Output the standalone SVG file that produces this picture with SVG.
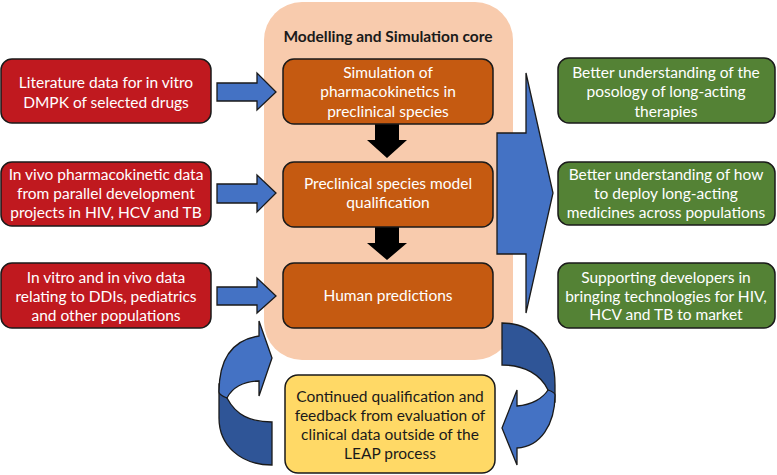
<svg xmlns="http://www.w3.org/2000/svg" width="777" height="475" viewBox="0 0 777 475">
<style>
.box{stroke:#1a1a1a;stroke-width:1.5}
.red{fill:#C0191F}
.org{fill:#C55A11}
.grn{fill:#548235}
.yel{fill:#FFD966}
.t{font-family:Lato,"Open Sans","Liberation Sans",sans-serif;font-size:15.5px;text-anchor:middle;fill:#fff}
.td{fill:#1a1a1a}
.bl{fill:#4472C4;stroke:#1a1a1a;stroke-width:1.3;stroke-linejoin:miter}
.bd{fill:#2F5597;stroke:#1a1a1a;stroke-width:1.3}
.blk{fill:#000}
</style>
<rect width="777" height="475" fill="#fff"/>
<g id="core">
<rect x="264" y="2" width="249" height="358" rx="38" fill="#F8CBAD"/>
<text x="388" y="42" class="t td" style="font-weight:bold">Modelling and Simulation core</text>
</g>
<g id="connectors">
<path class="bl" d="M217,83 H257 V73 L276,92 L257,110 V101 H217 Z"/>
<path class="bl" d="M217,184 H257 V175 L276,193 L257,212 V203 H217 Z"/>
<path class="bl" d="M217,287 H257 V278 L276,296 L257,313 V305 H217 Z"/>
<path class="blk" d="M375,124 H399 V140 H407 L387,158 L367,140 H375 Z"/>
<path class="blk" d="M375,227 H399 V243 H407 L387,260 L367,243 H375 Z"/>
<path class="bl" d="M497,133 H526 V73 L553,193 L526,313 V254 H497 Z"/>
<path class="bd" d="M219,385 V418 C219,445 240,465 272,465 V422 C250,422 236,415 227,398 Z"/>
<path class="bl" d="M219,392 C219,360 232,340 259,336 V321 L272,358 L259,396 V381 C243,381 232,388 227,398 C222,396 219,394 219,392 Z"/>
<path class="bd" d="M502,323 C535,323 555,348 555,385 V401 L548,390 C541,375 525,365 502,365 Z"/>
<path class="bl" d="M555,395 C555,425 540,447 517,448 V465 L502,428 L517,390 V406 C532,405 543,398 548,390 C551,391 555,393 555,395 Z"/>
</g>
<g id="lit">
<rect class="box red" x="1" y="59" width="210" height="64" rx="11"/>
<text class="t" x="106" y="88">Literature data for in vitro</text>
<text class="t" x="106" y="108">DMPK of selected drugs</text>
</g>
<g id="invivo">
<rect class="box red" x="1" y="162" width="210" height="64" rx="11"/>
<text class="t" x="106" y="180">In vivo pharmacokinetic data</text>
<text class="t" x="106" y="199">from parallel development</text>
<text class="t" x="106" y="218">projects in HIV, HCV and TB</text>
</g>
<g id="ddi">
<rect class="box red" x="1" y="263" width="210" height="65" rx="11"/>
<text class="t" x="106" y="283">In vitro and in vivo data</text>
<text class="t" x="106" y="302">relating to DDIs, pediatrics</text>
<text class="t" x="106" y="321">and other populations</text>
</g>
<g id="sim">
<rect class="box org" x="283" y="59" width="210" height="65" rx="11"/>
<text class="t" x="388" y="78">Simulation of</text>
<text class="t" x="388" y="97">pharmacokinetics in</text>
<text class="t" x="388" y="117">preclinical species</text>
</g>
<g id="qual">
<rect class="box org" x="283" y="162" width="210" height="65" rx="11"/>
<text class="t" x="388" y="189">Preclinical species model</text>
<text class="t" x="388" y="208">qualification</text>
</g>
<g id="human">
<rect class="box org" x="283" y="263" width="210" height="65" rx="11"/>
<text class="t" x="388" y="301">Human predictions</text>
</g>
<g id="posology">
<rect class="box grn" x="558" y="58" width="217" height="65" rx="11"/>
<text class="t" x="666" y="78">Better understanding of the</text>
<text class="t" x="666" y="97">posology of long-acting</text>
<text class="t" x="666" y="117">therapies</text>
</g>
<g id="deploy">
<rect class="box grn" x="558" y="162" width="217" height="63" rx="11"/>
<text class="t" x="666" y="180">Better understanding of how</text>
<text class="t" x="666" y="199">to deploy long-acting</text>
<text class="t" x="666" y="218">medicines across populations</text>
</g>
<g id="support">
<rect class="box grn" x="558" y="263" width="217" height="65" rx="11"/>
<text class="t" x="666" y="283">Supporting developers in</text>
<text class="t" x="666" y="302">bringing technologies for HIV,</text>
<text class="t" x="666" y="320">HCV and TB to market</text>
</g>
<g id="feedback">
<rect class="box yel" x="285" y="375" width="210" height="98" rx="13"/>
<text class="t td" x="390" y="402">Continued qualification and</text>
<text class="t td" x="390" y="421">feedback from evaluation of</text>
<text class="t td" x="390" y="440">clinical data outside of the</text>
<text class="t td" x="390" y="459">LEAP process</text>
</g>
</svg>
